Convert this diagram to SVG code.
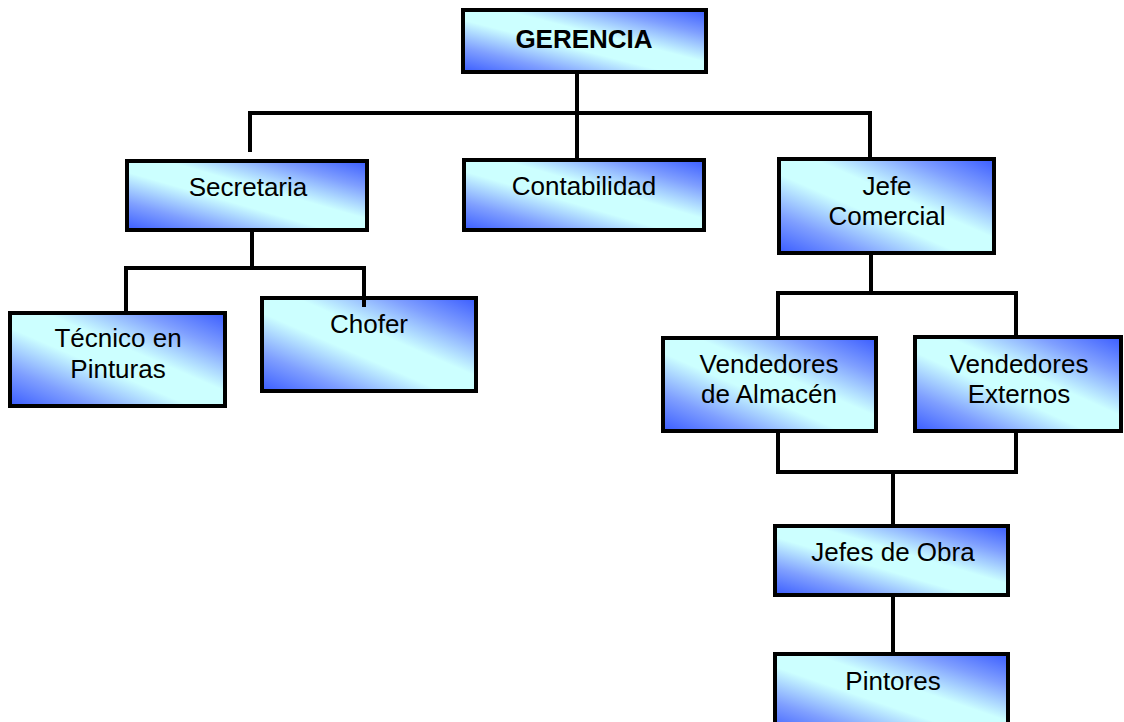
<svg xmlns="http://www.w3.org/2000/svg" width="1124" height="722" viewBox="0 0 1124 722">
  <defs>
    <!-- diagonal fill: blue corners (top-right, bottom-left), pale cyan band along the main diagonal -->
    <linearGradient id="boxFill" x1="1" y1="0" x2="0" y2="1">
      <stop offset="0" stop-color="#3a5cff"/>
      <stop offset="0.2" stop-color="#7f9fff"/>
      <stop offset="0.42" stop-color="#ccffff"/>
      <stop offset="0.58" stop-color="#ccffff"/>
      <stop offset="0.8" stop-color="#7f9fff"/>
      <stop offset="1" stop-color="#3a5cff"/>
    </linearGradient>
    <style>
      .box { fill: url(#boxFill); stroke: #000; stroke-width: 4; }
      .lbl { font-family: "Liberation Sans", Arial, sans-serif; font-size: 26px; fill: #000; text-anchor: middle; }
      .bold { font-weight: bold; }
      .wire { fill: none; stroke: #000; stroke-width: 4; }
    </style>
  </defs>
  <rect width="1124" height="722" fill="#fff"/>

  <g id="gerencia">
    <rect class="box" x="463" y="10" width="243" height="62"/>
    <text class="lbl bold" x="584" y="48">GERENCIA</text>
  </g>
  <g id="secretaria">
    <rect class="box" x="127" y="161" width="240" height="69"/>
    <text class="lbl" x="248" y="196">Secretaria</text>
  </g>
  <g id="contabilidad">
    <rect class="box" x="464" y="160" width="240" height="70"/>
    <text class="lbl" x="584" y="195">Contabilidad</text>
  </g>
  <g id="jefe-comercial">
    <rect class="box" x="779" y="159" width="215" height="94"/>
    <text class="lbl" x="887" y="195">Jefe</text>
    <text class="lbl" x="887" y="225">Comercial</text>
  </g>
  <g id="tecnico">
    <rect class="box" x="10" y="313" width="215" height="93"/>
    <text class="lbl" x="118" y="347">Técnico en</text>
    <text class="lbl" x="118" y="378">Pinturas</text>
  </g>
  <g id="chofer">
    <rect class="box" x="262" y="298" width="214" height="93"/>
    <text class="lbl" x="369" y="333">Chofer</text>
  </g>
  <g id="vendedores-almacen">
    <rect class="box" x="663" y="338" width="213" height="93"/>
    <text class="lbl" x="769" y="373">Vendedores</text>
    <text class="lbl" x="769" y="403">de Almacén</text>
  </g>
  <g id="vendedores-externos">
    <rect class="box" x="915" y="337" width="206" height="94"/>
    <text class="lbl" x="1019" y="373">Vendedores</text>
    <text class="lbl" x="1019" y="403">Externos</text>
  </g>
  <g id="jefes-obra">
    <rect class="box" x="775" y="526" width="233" height="69"/>
    <text class="lbl" x="893" y="561">Jefes de Obra</text>
  </g>
  <g id="pintores">
    <rect class="box" x="775" y="654" width="233" height="80"/>
    <text class="lbl" x="893" y="690">Pintores</text>
  </g>

  <g id="connectors">
    <path class="wire" d="M577 74 V113"/>
    <path class="wire" d="M250 152 V113 H870 V157"/>
    <path class="wire" d="M577 113 V158"/>
    <path class="wire" d="M252 232 V268"/>
    <path class="wire" d="M126 311 V268 H364 V307"/>
    <path class="wire" d="M871 255 V293"/>
    <path class="wire" d="M778 336 V293 H1016 V335"/>
    <path class="wire" d="M778 433 V472 H1016 V433"/>
    <path class="wire" d="M893 472 V524"/>
    <path class="wire" d="M893 597 V652"/>
  </g>
</svg>
